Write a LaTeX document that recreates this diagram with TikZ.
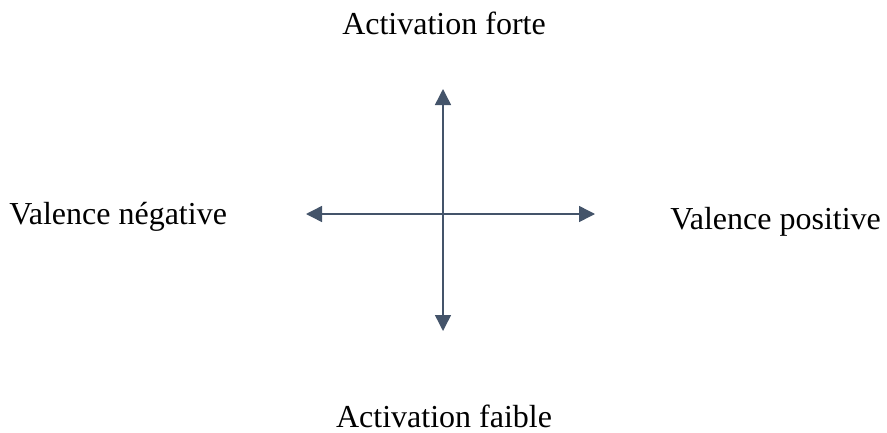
\documentclass[tikz,border=0pt]{standalone}
\usepackage{fontspec}
\setmainfont{Liberation Serif}
\usetikzlibrary{arrows.meta}
\definecolor{axiscol}{HTML}{44546A}
\begin{document}
\begin{tikzpicture}[x=0.75pt,y=-0.75pt,
  axis/.style={draw=axiscol,line width=1.1pt,{Triangle[length=12pt,width=12pt]}-{Triangle[length=12pt,width=12pt]}},
  lbl/.style={font=\fontsize{24}{29}\selectfont,inner sep=0pt,anchor=base}]
\useasboundingbox (0,0) rectangle (887,432);
\coordinate (top) at (443,89);
\coordinate (bot) at (443,331);
\coordinate (left) at (306,214);
\coordinate (right) at (595,214);
\draw[axis] (bot) -- (top);
\draw[axis] (left) -- (right);
\node[lbl] (hi) at (444,34) {Activation forte};
\node[lbl] (lo) at (444,427) {Activation faible};
\node[lbl,anchor=base west] (neg) at (9,224) {Valence négative};
\node[lbl,anchor=base west] (pos) at (670,229) {Valence positive};
\end{tikzpicture}
\end{document}
